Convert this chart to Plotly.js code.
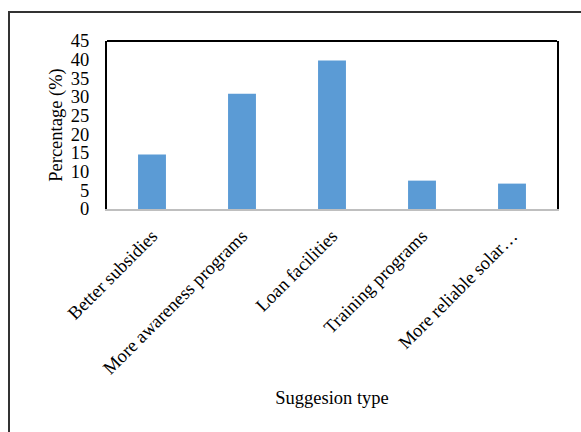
<!DOCTYPE html>
<html>
<head>
<meta charset="utf-8">
<script src="https://cdn.plot.ly/plotly-3.0.1.min.js"></script>
<style>
  html, body { margin: 0; padding: 0; background: #fff; }
  #wrap { position: relative; width: 581px; height: 432px; overflow: hidden; }
  #chart { position: absolute; left: 0; top: 0; width: 581px; height: 432px; }
  #frame { position: absolute; left: 8px; top: 11px; width: 600px; height: 440px;
           border-left: 2px solid #333; border-top: 2px solid #333; pointer-events: none; }
</style>
</head>
<body>
<div id="wrap">
  <div id="chart"></div>
  <div id="frame"></div>
</div>
<script>
// Suggestion categories and the share of respondents for each
const categories = [
  "Better subsidies",
  "More awareness programs",
  "Loan facilities",
  "Training programs",
  "More reliable solar…"
];
const percentages = [14.6, 30.9, 39.8, 7.6, 6.8];
const yTicks = [0, 5, 10, 15, 20, 25, 30, 35, 40, 45];

const serif = "Liberation Serif, Times New Roman, serif";
const fs = 18.5;

const trace = {
  type: "bar",
  x: categories,
  y: percentages,
  marker: { color: "#5b9bd5", line: { width: 0 } },
  hoverinfo: "x+y"
};

const layout = {
  width: 581,
  height: 432,
  margin: { l: 107, r: 24, t: 41, b: 223 },
  paper_bgcolor: "rgba(0,0,0,0)",
  plot_bgcolor: "#fff",
  bargap: 0.69,
  showlegend: false,
  font: { family: serif, color: "#000", size: fs },
  xaxis: {
    type: "category",
    tickangle: -45,
    showline: true,
    linecolor: "#bfbfbf",
    linewidth: 2,
    showgrid: false,
    zeroline: false,
    ticks: "",
    ticklabelstandoff: 7,
    tickfont: { family: serif, size: fs, color: "#000" },
    automargin: false,
    title: { text: "Suggesion type", font: { family: serif, size: fs, color: "#000" }, standoff: 14 }
  },
  yaxis: {
    range: [0, 45],
    tickvals: yTicks,
    ticktext: yTicks.map(String),
    showline: true,
    mirror: true,
    linecolor: "#000",
    linewidth: 2,
    showgrid: false,
    zeroline: false,
    ticks: "",
    ticklabelstandoff: 12,
    tickfont: { family: serif, size: fs, color: "#000" },
    automargin: false,
    title: { text: "Percentage (%)", font: { family: serif, size: fs, color: "#000" }, standoff: 3 }
  },
  shapes: [
    { type: "line", xref: "paper", yref: "paper", x0: 0, x1: 1, y0: 1, y1: 1,
      line: { color: "#000", width: 2 } }
  ]
};

Plotly.newPlot("chart", [trace], layout, { displayModeBar: false, staticPlot: true });
</script>
</body>
</html>
